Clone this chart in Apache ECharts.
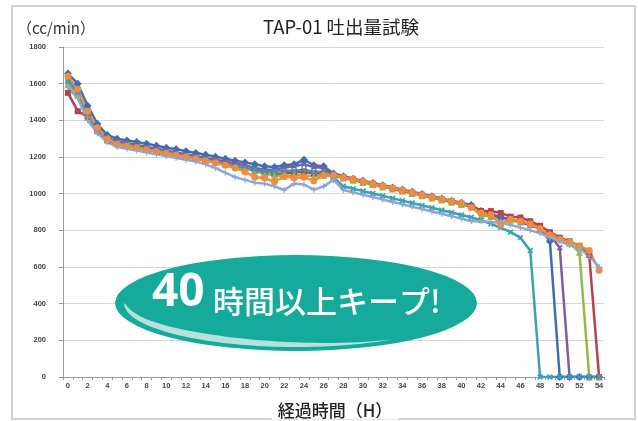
<!DOCTYPE html>
<html><head><meta charset="utf-8">
<script src="https://cdn.jsdelivr.net/npm/echarts@6/dist/echarts.min.js"></script>
<style>html,body{margin:0;padding:0;background:#fff}#c{width:638px;height:421px}</style>
</head><body><div id="c"></div>
<script>
const hours = ['0','1','2','3','4','5','6','7','8','9','10','11','12','13','14','15','16','17','18','19','20','21','22','23','24','25','26','27','28','29','30','31','32','33','34','35','36','37','38','39','40','41','42','43','44','45','46','47','48','49','50','51','52','53','54'];
const yTicks = [0,200,400,600,800,1000,1200,1400,1600,1800];

const sBlue   = [1655,1600,1480,1380,1320,1300,1290,1282,1272,1262,1250,1242,1232,1222,1212,1202,1190,1180,1170,1160,1150,1145,1155,1160,1185,1155,1150,1110,1095,1082,1070,1058,1046,1034,1022,1010,998,986,974,962,950,938,905,890,872,860,848,832,812,740,0,0,0,0,0];
const sRed    = [1550,1450,1420,1340,1290,1270,1260,1250,1240,1230,1220,1210,1200,1190,1180,1170,1160,1150,1140,1125,1110,1105,1110,1115,1120,1110,1110,1100,1090,1078,1066,1054,1042,1030,1018,1006,994,982,970,958,946,930,905,905,895,875,870,850,825,790,760,740,715,665,0];
const sGreen  = [1600,1540,1430,1350,1300,1275,1265,1255,1245,1235,1225,1215,1205,1195,1185,1175,1163,1152,1142,1130,1110,1100,1095,1100,1100,1095,1100,1095,1085,1073,1061,1049,1037,1025,1013,1001,989,977,965,953,941,929,880,875,865,855,845,830,810,780,755,730,680,0,0];
const sPurple = [1620,1560,1440,1360,1305,1285,1275,1265,1255,1245,1235,1225,1215,1205,1195,1185,1175,1165,1155,1140,1130,1130,1142,1150,1160,1145,1140,1100,1088,1076,1064,1052,1040,1028,1016,1004,992,980,968,956,944,932,895,885,870,860,845,828,808,775,705,0,0,0,0];
const sTeal   = [1610,1550,1430,1345,1295,1275,1265,1255,1245,1235,1225,1215,1205,1195,1185,1172,1160,1150,1140,1130,1120,1120,1125,1125,1130,1120,1120,1090,1040,1027,1014,1001,988,975,962,949,936,923,910,897,884,871,855,835,815,790,760,690,0,0,0,0,0,0,0];
const sOrange = [1640,1570,1450,1360,1300,1270,1260,1250,1240,1230,1220,1210,1200,1190,1180,1168,1155,1140,1120,1090,1085,1065,1095,1085,1090,1070,1100,1100,1090,1078,1066,1054,1042,1030,1018,1006,994,982,970,958,946,925,895,885,832,860,850,835,810,775,750,735,715,690,582];
const sLav    = [1580,1520,1400,1330,1280,1255,1245,1235,1225,1215,1205,1195,1185,1175,1160,1140,1115,1090,1075,1060,1055,1040,1020,1055,1050,1022,1040,1075,1020,1007,994,981,968,955,942,929,916,903,890,877,864,850,850,845,840,830,815,800,785,760,740,720,700,660,600];

const seriesDefs = [
  {name:'A', data:sBlue,   color:'#3D6DB5', symbol:'diamond', size:8},
  {name:'B', data:sRed,    color:'#B8414B', symbol:'rect', size:6},
  {name:'C', data:sGreen,  color:'#93B84C', symbol:'triangle', size:7},
  {name:'D', data:sPurple, color:'#7A5EA8', symbol:'path://M0,2 L2,0 L5,3 L8,0 L10,2 L7,5 L10,8 L8,10 L5,7 L2,10 L0,8 L3,5 Z', size:6},
  {name:'E', data:sTeal,   color:'#3AA0B6', symbol:'path://M0,2 L2,0 L5,3 L8,0 L10,2 L7,5 L10,8 L8,10 L5,7 L2,10 L0,8 L3,5 Z', size:6},
  {name:'F', data:sOrange, color:'#F28C3A', symbol:'circle', size:7},
  {name:'G', data:sLav,    color:'#8EA7D8', symbol:'path://M4,0 H6 V4 H10 V6 H6 V10 H4 V6 H0 V4 H4 Z', size:6}
];

// decorative crescent highlight inside badge
const cx = 296, cy = 303, rx = 172, ry = 44;
const outer = [], inner = [];
const t0 = Math.PI, t1 = 0.98, N = 40;
for (let i = 0; i <= N; i++) {
  const s = i / N;
  const t = t0 + (t1 - t0) * s;
  const w = 7.5 * Math.pow(Math.sin(Math.PI * Math.pow(s, 0.7)), 0.9);
  outer.push([cx + rx * Math.cos(t), cy + ry * Math.sin(t)]);
  inner.push([cx + (rx - w) * Math.cos(t), cy + (ry - w) * Math.sin(t)]);
}
const crescent = outer.concat(inner.reverse());

const chart = echarts.init(document.getElementById('c'), null, {renderer:'canvas'});
chart.setOption({
  animation:false,
  backgroundColor:'#fff',
  title:{text:'TAP-01 吐出量試験', left:336, top:13, textAlign:'center',
    textStyle:{fontFamily:'Noto Sans CJK JP', fontSize:18.5, fontWeight:'normal', color:'#222'}},
  grid:{left:63, right:34, top:47, bottom:44},
  xAxis:{type:'category', data:hours, boundaryGap:true,
    axisLine:{lineStyle:{color:'#9a9a9a', width:1}},
    axisTick:{show:true, interval:0, length:3, lineStyle:{color:'#9a9a9a'}},
    axisLabel:{interval:1, margin:5, fontSize:7.5, fontWeight:'bold', color:'#444', fontFamily:'Liberation Sans'},
    splitLine:{show:false}},
  yAxis:{type:'value', min:yTicks[0], max:yTicks[yTicks.length-1], interval:200,
    axisLine:{show:true, lineStyle:{color:'#9a9a9a', width:1}},
    axisTick:{show:true, length:4, lineStyle:{color:'#9a9a9a'}},
    axisLabel:{margin:17, fontSize:7.5, fontWeight:'bold', color:'#444', fontFamily:'Liberation Sans',
      formatter: v => String(v)},
    splitLine:{lineStyle:{color:'#d6d6d6', width:1}}},
  series: seriesDefs.map(d => ({
    name:d.name, type:'line', data:d.data, symbol:d.symbol, symbolSize:d.size,
    showAllSymbol:true,
    lineStyle:{color:d.color, width:2.5},
    itemStyle:{color:d.color, borderWidth:0},
    emphasis:{disabled:true}
  })),
  graphic:[
    {type:'rect', shape:{x:12, y:6, width:623, height:413}, style:{fill:'none', stroke:'#c4c4c4', lineWidth:1.5}, z:-1},
    {type:'text', x:335, y:411, z:100,
      style:{text:'経過時間（H）', x:0, y:0, align:'center', verticalAlign:'middle',
        font:'500 17px "Noto Sans CJK JP"', fill:'#222', backgroundColor:'#fff', padding:[0,6,0,6]}},
    {type:'text', x:17, y:28, z:100,
      style:{text:'（cc/min）', align:'left', verticalAlign:'middle', font:'15px "Noto Sans CJK JP"', fill:'#333'}},
    {type:'circle', x:296, y:303, scaleX:181/48, scaleY:1, shape:{cx:0, cy:0, r:48}, style:{fill:'#16AA9C'}, z:100},
    {type:'polygon', shape:{points:crescent}, style:{fill:'#B5E3DC'}, z:101},
    {type:'text', x:152, y:293, z:102,
      style:{text:'40', align:'left', verticalAlign:'middle', font:'bold 46px "Noto Sans"', fill:'#fff'}},
    {type:'text', x:213, y:301, z:102,
      style:{text:'時間以上キープ!', align:'left', verticalAlign:'middle', font:'500 31px "Noto Sans CJK JP"', fill:'#fff'}}
  ]
});
</script>
</body></html>
